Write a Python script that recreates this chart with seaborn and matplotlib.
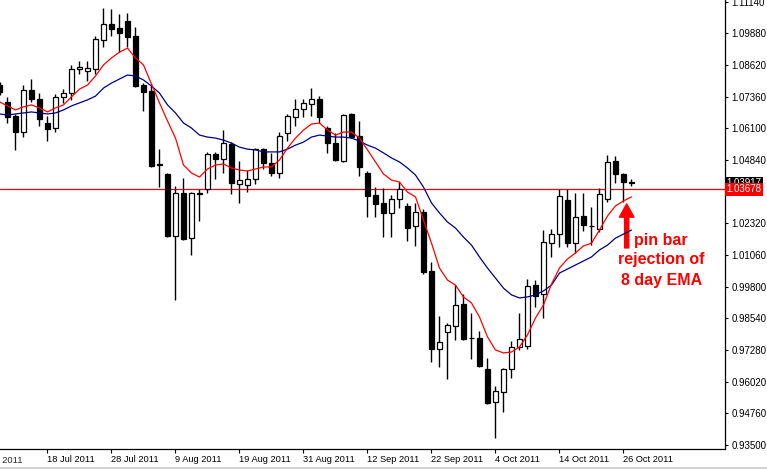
import numpy as np
import pandas as pd
import seaborn as sns
import matplotlib.pyplot as plt
from matplotlib.lines import Line2D

# == Daily bars, 8 Jul 2011 .. 27 Oct 2011 (weekdays) == #

opens = [1.0782, 1.0715, 1.0659, 1.0595, 1.0762, 1.0727, 1.0631, 1.0611, 1.0735, 1.0750,
         1.0846, 1.0838, 1.0846, 1.0961, 1.1025, 1.1009, 1.1037, 1.0977, 1.0782, 1.0758,
         1.0468, 1.0428, 1.0181, 1.0352, 1.0173, 1.0352, 1.0368, 1.0508, 1.0488, 1.0547,
         1.0388, 1.0384, 1.0408, 1.0527, 1.0472, 1.0432, 1.0591, 1.0655, 1.0687, 1.0707,
         1.0727, 1.0611, 1.0551, 1.0480, 1.0667, 1.0579, 1.0432, 1.0345, 1.0313, 1.0273,
         1.0329, 1.0301, 1.0221, 1.0277, 1.0042, 0.9732, 0.9799, 0.9823, 0.9911, 0.9776,
         0.9776, 0.9652, 0.9521, 0.9561, 0.9652, 0.9740, 0.9744, 0.9986, 0.9951, 1.0153,
         1.0189, 1.0325, 1.0153, 1.0261, 1.0221, 1.0209, 1.0329, 1.0480, 1.0428, 1.0396]
highs = [1.0794, 1.0735, 1.0667, 1.0782, 1.0806, 1.0750, 1.0659, 1.0746, 1.0766, 1.0862,
         1.0878, 1.0878, 1.0977, 1.1089, 1.1085, 1.1065, 1.1069, 1.1013, 1.0790, 1.0782,
         1.0527, 1.0432, 1.0380, 1.0412, 1.0356, 1.0368, 1.0516, 1.0516, 1.0603, 1.0555,
         1.0480, 1.0444, 1.0531, 1.0531, 1.0512, 1.0595, 1.0667, 1.0727, 1.0727, 1.0770,
         1.0738, 1.0619, 1.0591, 1.0667, 1.0671, 1.0639, 1.0440, 1.0376, 1.0372, 1.0345,
         1.0396, 1.0313, 1.0313, 1.0289, 1.0078, 0.9863, 0.9835, 0.9986, 0.9951, 0.9875,
         0.9803, 0.9696, 0.9585, 0.9656, 0.9764, 0.9875, 1.0010, 1.0006, 1.0205, 1.0209,
         1.0368, 1.0368, 1.0352, 1.0352, 1.0297, 1.0372, 1.0504, 1.0500, 1.0432, 1.0408]
lows = [1.0742, 1.0631, 1.0524, 1.0575, 1.0715, 1.0619, 1.0559, 1.0595, 1.0711, 1.0723,
        1.0826, 1.0798, 1.0826, 1.0933, 1.0977, 1.0913, 1.0933, 1.0774, 1.0679, 1.0456,
        1.0376, 1.0177, 0.9927, 1.0165, 1.0106, 1.0241, 1.0352, 1.0408, 1.0432, 1.0349,
        1.0313, 1.0356, 1.0388, 1.0448, 1.0420, 1.0412, 1.0559, 1.0619, 1.0655, 1.0659,
        1.0631, 1.0512, 1.0480, 1.0476, 1.0571, 1.0420, 1.0257, 1.0257, 1.0177, 1.0177,
        1.0293, 1.0161, 1.0142, 1.0030, 0.9680, 0.9660, 0.9612, 0.9768, 0.9768, 0.9692,
        0.9660, 0.9513, 0.9378, 0.9481, 0.9616, 0.9728, 0.9732, 0.9899, 0.9855, 1.0098,
        1.0138, 1.0138, 1.0114, 1.0201, 1.0145, 1.0197, 1.0317, 1.0392, 1.0317, 1.0380]
closes = [1.0754, 1.0655, 1.0595, 1.0762, 1.0727, 1.0647, 1.0607, 1.0735, 1.0750, 1.0846,
          1.0854, 1.0850, 1.0965, 1.1025, 1.1005, 1.0989, 1.0973, 1.0778, 1.0754, 1.0460,
          1.0464, 1.0181, 1.0352, 1.0169, 1.0352, 1.0350, 1.0508, 1.0488, 1.0551, 1.0392,
          1.0404, 1.0408, 1.0527, 1.0472, 1.0432, 1.0579, 1.0659, 1.0687, 1.0711, 1.0727,
          1.0655, 1.0551, 1.0484, 1.0663, 1.0575, 1.0456, 1.0341, 1.0309, 1.0273, 1.0329,
          1.0368, 1.0213, 1.0277, 1.0038, 0.9732, 0.9760, 0.9827, 0.9907, 0.9772, 0.9774,
          0.9664, 0.9517, 0.9565, 0.9652, 0.9740, 0.9772, 0.9982, 0.9943, 1.0157, 1.0189,
          1.0341, 1.0153, 1.0257, 1.0225, 1.0221, 1.0349, 1.0476, 1.0428, 1.0396, 1.03917]

# -- moving averages as drawn on the chart (8 day red, slower blue)
ema_fast = [1.0715, 1.0699, 1.0683, 1.0695, 1.0703, 1.0691, 1.0675, 1.0691, 1.0703, 1.0735,
            1.0766, 1.0782, 1.0818, 1.0862, 1.0890, 1.0913, 1.0929, 1.0890, 1.0862, 1.0786,
            1.0711, 1.0639, 1.0571, 1.0464, 1.0432, 1.0416, 1.0448, 1.0464, 1.0468, 1.0452,
            1.0444, 1.0440, 1.0448, 1.0456, 1.0456, 1.0484, 1.0531, 1.0571, 1.0603, 1.0627,
            1.0631, 1.0603, 1.0583, 1.0595, 1.0595, 1.0571, 1.0524, 1.0476, 1.0428, 1.0404,
            1.0396, 1.0356, 1.0337, 1.0245, 1.0153, 1.0054, 1.0006, 0.9986, 0.9939, 0.9915,
            0.9859, 0.9780, 0.9728, 0.9716, 0.9720, 0.9740, 0.9788, 0.9855, 0.9907, 0.9990,
            1.0054, 1.0090, 1.0114, 1.0142, 1.0153, 1.0205, 1.0261, 1.0301, 1.0321, 1.0337]
ema_slow = [1.0667, 1.0663, 1.0667, 1.0671, 1.0675, 1.0671, 1.0667, 1.0671, 1.0683, 1.0699,
            1.0711, 1.0723, 1.0738, 1.0770, 1.0790, 1.0806, 1.0822, 1.0818, 1.0802, 1.0778,
            1.0750, 1.0703, 1.0671, 1.0631, 1.0611, 1.0583, 1.0575, 1.0571, 1.0563, 1.0551,
            1.0535, 1.0527, 1.0524, 1.0516, 1.0516, 1.0516, 1.0527, 1.0543, 1.0555, 1.0575,
            1.0583, 1.0579, 1.0575, 1.0575, 1.0571, 1.0559, 1.0543, 1.0531, 1.0512, 1.0492,
            1.0476, 1.0452, 1.0424, 1.0376, 1.0313, 1.0273, 1.0237, 1.0213, 1.0177, 1.0145,
            1.0098, 1.0054, 1.0014, 0.9974, 0.9947, 0.9935, 0.9939, 0.9947, 0.9963, 0.9986,
            1.0034, 1.0050, 1.0066, 1.0082, 1.0098, 1.0126, 1.0145, 1.0173, 1.0189, 1.0205]

date_pos = [6, 14, 22, 30, 38, 46, 54, 62, 70, 78]
date_labels = ['18 Jul 2011', '28 Jul 2011', '9 Aug 2011', '19 Aug 2011', '31 Aug 2011',
               '12 Sep 2011', '22 Sep 2011', '4 Oct 2011', '14 Oct 2011', '26 Oct 2011']
first_label = '6 Jul 2011'
price_ticks = [0.93500, 0.94760, 0.96020, 0.97280, 0.98540, 0.99800, 1.01060, 1.02320,
               1.04840, 1.06100, 1.07360, 1.08620, 1.09880, 1.11140]
line_price = 1.03678
last_price = 1.03917

df = pd.DataFrame({'open': opens, 'high': highs, 'low': lows, 'close': closes,
                   'fast': ema_fast, 'slow': ema_slow})
df['bar'] = np.arange(len(df))
up = df['close'] >= df['open']

sns.set_style('white')
plt.rcParams['font.family'] = ['Liberation Sans', 'DejaVu Sans']

fig = plt.figure(figsize=(7.67, 4.70), dpi=100)
ax = fig.add_axes([0, 21 / 470, 725 / 767, 449 / 470])

# == candles == #
ax.vlines(df['bar'], df['low'], df['high'], color='black', lw=1.0, zorder=2)
ax.bar(df['bar'], (df['close'] - df['open']).abs(),
       bottom=df[['open', 'close']].min(axis=1), width=0.62,
       color=np.where(up, 'white', 'black'), edgecolor='black', linewidth=0.9, zorder=3)

# == moving averages == #
sns.lineplot(data=df, x='bar', y='slow', color='#000080', lw=0.9, ax=ax, zorder=4)
sns.lineplot(data=df, x='bar', y='fast', color='#ff0000', lw=0.9, ax=ax, zorder=4)

ax.axhline(line_price, color='#ff0000', lw=0.9, zorder=1)

# == annotation == #
ax.annotate('', xy=(78.4, 1.0309), xytext=(78.4, 1.0134),
            arrowprops=dict(facecolor='#ff0000', edgecolor='#ff0000', width=3,
                            headwidth=10.5, headlength=9.5, shrink=0))
for txt, yv in zip(['pin bar', 'rejection of', '8 day EMA'], [1.0165, 1.0088, 1.0006]):
    ax.text(82.7, yv, txt, color='#ff0000', fontsize=11.5, fontweight='bold',
            ha='center', va='center')

# == axes == #
ax.set_xlim(0.0625, 90.69)
ax.set_ylim(0.93339, 1.11204)
ax.set_xlabel('')
ax.set_ylabel('')
ax.yaxis.tick_right()
ax.set_yticks(price_ticks)
ax.set_yticklabels(['%.5f' % p for p in price_ticks])
ax.set_xticks(date_pos)
ax.set_xticklabels(date_labels)
for lbl in ax.get_xticklabels():
    lbl.set_ha('left')
ax.tick_params(axis='y', right=True, left=False, length=2.5, width=0.8, pad=2,
               labelsize=7, colors='black')
ax.tick_params(axis='x', bottom=True, length=3, width=0.8, pad=1.5, labelsize=6.7,
               colors='black')
ax.annotate(first_label, xy=(-2, 0), xycoords=('data', 'axes fraction'),
            xytext=(-2.5, -5.2), textcoords='offset points', ha='left', va='top',
            fontsize=6.7, annotation_clip=False)
for side in ['left', 'top']:
    ax.spines[side].set_visible(False)
for side in ['right', 'bottom']:
    ax.spines[side].set_color('black')
    ax.spines[side].set_linewidth(0.9)

# -- price labels on the scale
ax.text(1.002, last_price, '%.5f' % last_price, transform=ax.get_yaxis_transform(),
        ha='left', va='center', color='white', fontsize=7, clip_on=False, zorder=6,
        bbox=dict(boxstyle='square,pad=0.15', fc='black', ec='none'))
ax.text(1.002, line_price, '%.5f' % line_price, transform=ax.get_yaxis_transform(),
        ha='left', va='center', color='white', fontsize=7, clip_on=False, zorder=7,
        bbox=dict(boxstyle='square,pad=0.15', fc='#ff0000', ec='none'))

fig.add_artist(Line2D([0, 1], [2.5 / 470, 2.5 / 470], color='#c8c8c8', lw=1.2))

fig.savefig('out.png', dpi=100)
